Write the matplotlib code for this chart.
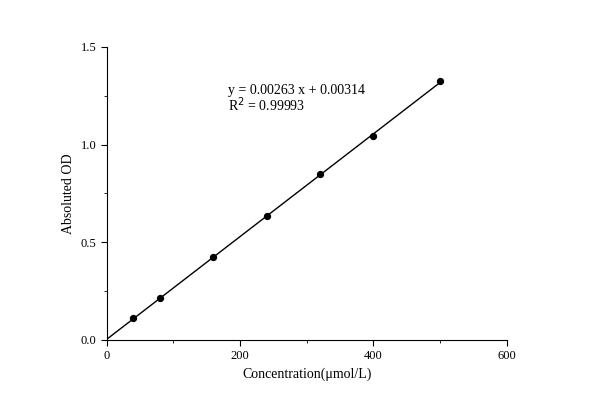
import matplotlib
matplotlib.use("Agg")
import matplotlib.pyplot as plt
import numpy as np
from matplotlib.ticker import MultipleLocator

conc = [40, 80, 160, 240, 320, 400, 500]
od = [0.11, 0.215, 0.425, 0.635, 0.85, 1.045, 1.325]
slope = 0.00263
intercept = 0.00314

plt.rcParams["font.family"] = ["Liberation Serif", "DejaVu Serif"]

fig = plt.figure(figsize=(5.9, 4.08), dpi=100)
ax = fig.add_axes([0.181, 0.167, 0.678, 0.718])

xs = np.array([0, max(conc)])
ax.plot(xs, slope * xs + intercept, color="black", lw=1)
ax.scatter(conc, od, s=18, color="black", zorder=3)

ax.set_xlim(0, 600)
ax.set_ylim(0, 1.5)
ax.xaxis.set_major_locator(MultipleLocator(200))
ax.xaxis.set_minor_locator(MultipleLocator(100))
ax.yaxis.set_major_locator(MultipleLocator(0.5))
ax.yaxis.set_minor_locator(MultipleLocator(0.25))
ax.yaxis.set_major_formatter(plt.FormatStrFormatter("%.1f"))
ax.spines[["top", "right"]].set_visible(False)
ax.tick_params(which="major", length=4, labelsize=9)
ax.tick_params(which="minor", length=2)

ax.set_xlabel("Concentration(\u03bcmol/L)", fontsize=10)
ax.set_ylabel("Absoluted OD", fontsize=10)

ax.text(182, 1.26, f"y = {slope} x + {intercept}", fontsize=10)
ax.text(182, 1.17, "R$^2$ = 0.99993", fontsize=10)

fig.savefig("out.png", dpi=100, facecolor="white")
